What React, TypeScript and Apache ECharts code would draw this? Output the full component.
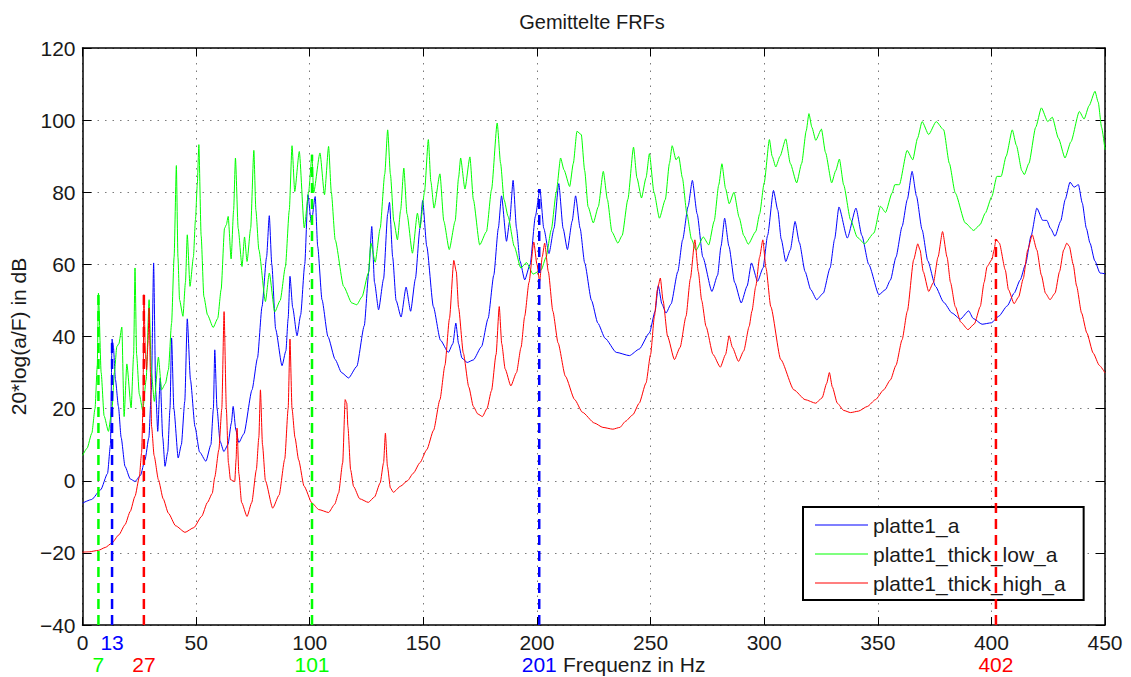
import React, { useEffect, useRef } from "react";
import * as echarts from "echarts";

const FONT = "'Liberation Sans', Arial, Helvetica, sans-serif";

// Averaged frequency response functions: [frequency in Hz, level in dB]
const platte1A: [number, number][] = [
  [0, -6.2], [4, -5.2], [8, -2.5], [11, 2], [12.3, 10], [13, 39.3], [13.6, 37], [14.5, 28], [15.8, 20.6], [17, 12],
  [18.7, 4], [21, 0.5], [23.1, -0.2], [25.5, 1.5], [27.5, 5.8], [29.2, 12], [30.3, 25], [31.3, 60.4], [32.2, 25],
  [33.1, 13.7], [34.2, 28.5], [35.3, 12], [36.3, 4], [37.5, 8], [38.5, 20], [39.2, 39.6], [40.2, 20], [42.1, 6.3],
  [43.5, 10], [45, 22], [46.1, 44.9], [47.5, 28], [49.5, 15], [51.5, 8], [54.3, 5.4], [56.5, 10], [57.6, 20],
  [58.2, 36.3], [59.2, 20], [60.5, 11], [62.2, 8.1], [64, 10], [65.5, 16], [66.3, 20.6], [67.5, 14], [68.8, 10.6],
  [71, 13], [74.6, 25.2], [77, 34], [79, 48.3], [81, 62], [82.2, 73.5], [83.3, 60], [85, 42], [87.8, 31.9], [89.5, 36],
  [90.5, 45], [91.3, 56.7], [92.5, 48], [94.4, 40.2], [96, 46], [97.8, 60], [99.2, 79.3], [100.7, 71.5], [102.4, 78.8],
  [103.5, 65], [105.4, 50.2], [108, 40], [111.2, 33.6], [114, 30], [117.1, 28.5], [120.7, 31.7], [124, 43], [126, 58],
  [127.3, 70.5], [128.5, 55], [130.3, 47.4], [132.5, 56], [134.3, 74], [135.1, 77.2], [136.5, 62], [138, 50],
  [140.2, 45.4], [142.4, 53.7], [144.4, 47], [146.5, 56], [148.5, 70], [149.7, 77.7], [151.5, 65], [154.4, 48.3],
  [157.5, 39], [161, 35.6], [163, 38], [164.3, 43.7], [165.5, 38], [167, 34], [169.3, 32.8], [172, 33.5], [175.6, 37.2],
  [178.5, 45], [181, 57], [183, 70], [184.4, 79], [186.6, 66.4], [188, 72], [189.5, 83.3], [191, 70], [192.5, 61],
  [194.6, 55.7], [197, 60], [199.3, 73.3], [201.3, 80.9], [203, 70], [205.3, 63], [207.5, 70], [209.6, 82.4],
  [211.5, 70], [213.4, 64.1], [215.5, 72], [217, 79], [219, 70], [221, 60.4], [224, 50], [226.8, 43.7], [230, 39.5],
  [234.9, 35.6], [240.7, 34.7], [245, 36.5], [249.5, 41], [252, 47], [253.4, 54.1], [255, 49], [256.8, 46.5], [259, 49],
  [262, 58], [264.1, 66.8], [266.5, 76], [268.4, 83.3], [270.5, 74], [273, 62], [277, 52.5], [279.5, 57], [281, 65],
  [282.6, 72.8], [284.5, 65], [287, 55], [289.9, 49.3], [292.5, 54], [294.4, 60.4], [297.1, 55.3], [299.5, 59],
  [301.5, 68], [304.1, 80.5], [306, 75], [307.5, 67], [309.5, 60.8], [311.5, 64], [313.6, 71.9], [315.5, 66], [318, 58],
  [320.5, 53], [323.1, 50.2], [326, 52], [329, 59], [331, 67], [332.9, 75.9], [336.6, 67.3], [340.4, 75.6], [343, 68],
  [346, 60], [350.5, 51.6], [353.4, 53], [355.6, 55.7], [358, 62], [360.7, 70.5], [363, 78], [365.1, 85.8], [367, 79],
  [369.5, 69.6], [372, 61], [375.4, 53.9], [379, 49.5], [382.7, 46.5], [386.3, 44.8], [390, 47.1], [392, 45],
  [395.9, 43.4], [400, 43.8], [403.2, 45.6], [407, 48.5], [410, 52], [412.7, 55.7], [415, 60], [417.5, 68], [420, 75.6],
  [422.6, 72.2], [424.4, 72.2], [426, 70], [428, 67.8], [430.5, 72], [432.5, 78], [434.6, 82.8], [436.4, 81.4],
  [438.3, 82.1], [440, 77], [441.8, 70], [443.4, 65.9], [445.5, 61], [447.8, 57.6], [450, 57.4],
];

const platte1ThickLowA: [number, number][] = [
  [0, 7], [2, 9], [4.1, 13.2], [5.5, 20], [6.5, 32], [7, 52], [8.2, 30], [9.5, 18], [11.4, 13.7], [13, 20], [14, 30],
  [15.1, 37.2], [16, 38], [17.3, 42.6], [18.3, 17.8], [19.5, 32.4], [21.4, 20.2], [22.5, 35], [23.1, 59], [23.8, 35],
  [25, 24], [26.5, 19.5], [28, 28], [29.3, 50.2], [30.3, 30], [31.6, 22], [33.4, 34.3], [34.8, 25.2], [36.5, 27],
  [37.8, 30.8], [39.2, 43.7], [40.3, 62], [41.3, 87.4], [42, 62], [42.7, 50.2], [44.2, 45.6], [45.3, 55], [46.1, 68.2],
  [47.3, 53.9], [48.8, 62], [49.7, 72.4], [50.5, 82], [51.2, 93.2], [52.2, 68], [53.4, 51.1], [55, 46], [57.5, 42.5],
  [59.5, 45], [61, 53], [62.5, 70], [63.3, 71], [64.1, 73.3], [65.4, 61.5], [66.5, 75], [67.3, 89.5], [68.5, 70],
  [70.2, 59.4], [71.3, 67.6], [72.4, 60.8], [74, 70], [75.4, 91.6], [76.3, 75], [77.6, 64.1], [80.5, 49.7], [82.2, 57.6],
  [84.6, 46.8], [87, 50], [89.3, 59.4], [91, 75], [92.2, 92.9], [93.4, 80.2], [95.4, 91.3], [97.6, 70.1], [99.5, 80],
  [101, 90.4], [101.7, 79.8], [104.5, 90.9], [106.5, 79.3], [108.3, 92.7], [109.5, 80], [111.2, 66.8], [114.9, 53.9],
  [118.5, 49.3], [120.7, 48.8], [123, 51], [125.8, 57.6], [126.9, 65.9], [128.8, 60.6], [131, 70], [133, 85],
  [134.3, 97.3], [135.5, 85], [137, 72], [138.6, 66.8], [140, 75], [141.4, 86.7], [142.8, 74], [145.2, 63.1],
  [147.4, 74.2], [148.5, 70.1], [150.5, 80], [152.2, 94.6], [153.3, 83], [154.7, 75.6], [157.3, 85.1], [159, 72],
  [161.4, 64.1], [164, 72], [165.5, 84], [166.4, 89.5], [168.3, 80.9], [170.5, 89.8], [172, 78], [174.8, 65.4],
  [177.8, 69.1], [180, 80.7], [182.5, 99.2], [184, 88], [185.5, 78], [187.3, 73.3], [190, 65], [192.9, 59], [195.4, 60.5],
  [198.3, 57.3], [201.9, 58.5], [204, 62], [206.3, 69.6], [208.5, 80], [210.4, 89.5], [211.9, 86.2], [214.4, 81.6],
  [216, 88], [217.6, 96.9], [219.5, 96], [221, 86], [222.5, 76], [224.8, 71.5], [227, 76], [229.2, 85.8], [231, 78],
  [233, 69], [235.6, 65.9], [237.5, 68], [240, 78], [242.5, 92.5], [244, 84], [246, 78.4], [248, 84], [249.5, 90.7],
  [251.5, 80], [253.9, 72.8], [256.5, 78], [258.3, 88], [259.5, 92.9], [261.2, 89], [262.4, 89.9], [264, 84], [266, 74],
  [268, 67], [270, 63.9], [273.2, 67.6], [275.6, 65.4], [278, 72], [280, 82], [281.4, 87.9], [283, 81], [284.6, 76.8],
  [286.7, 80], [289, 73], [291, 68], [293, 65.6], [296.3, 69.1], [298, 74], [300, 82.6], [302.3, 94.6], [303.5, 90],
  [305.1, 87], [307, 90], [309.5, 94.8], [311.5, 88], [314.3, 82.6], [316.5, 88], [318.5, 97], [319.7, 101.8], [321, 98],
  [322.7, 94.4], [325.2, 97.5], [327, 91], [329.7, 82.6], [331.5, 86], [333.1, 89.2], [335, 82], [338, 72.4], [341, 67.5],
  [344.2, 65.7], [348.3, 68.7], [351.2, 76.1], [353.4, 74.4], [356.3, 79.8], [357.5, 82.1], [359.5, 82.1], [362.9, 91.6],
  [365.4, 89], [367.5, 95], [369.5, 99.6], [372.4, 96], [375.7, 99.6], [379, 97.3], [381.5, 88], [384.1, 79.8],
  [388.5, 71.5], [392.2, 69.4], [395, 71], [397.3, 74.2], [400.2, 78.8], [402.4, 84.4], [404.3, 84.4], [406.5, 90],
  [409.2, 97.3], [411, 93], [413.4, 86], [414.5, 84.9], [416.5, 88], [419.5, 98], [422, 103.4], [424.8, 99.6],
  [426.8, 100.8], [429.5, 95], [432.4, 89.5], [435, 94], [438.7, 102.4], [440.8, 100.3], [443, 104], [445.6, 108],
  [447, 105], [448.5, 98], [450, 91.8],
];

const platte1ThickHighA: [number, number][] = [
  [0, -19.8], [3, -19.7], [7, -19.3], [10, -18.5], [12.9, -17.3], [16, -15], [18.7, -12.2], [21, -8.5], [23.1, -4.3],
  [25, 1], [26, 7.7], [26.6, 20], [27, 51.6], [27.7, 35], [28.2, 30.8], [28.8, 38], [29.3, 47.9], [29.9, 30], [30.4, 15],
  [31.5, 7], [33.4, 0.3], [35.5, -5], [37.8, -9], [41, -12.5], [45.1, -14.3], [49, -13], [52.4, -9.9], [55, -6],
  [57.1, -3.5], [58.2, 1], [60, 8.6], [61.3, 20], [62.3, 46.9], [63.3, 20], [64.2, 5], [65.1, 0.3], [67, -0.2], [67.6, 6],
  [68, 14.6], [68.8, 2], [70, -6], [72.4, -9.9], [74.5, -6], [76.5, 3], [77.6, 12], [78.3, 25.2], [79.2, 10], [80.5, 0],
  [83.7, -7.6], [86.5, -4], [89, 6], [90.5, 20], [91.3, 39.3], [92.2, 20], [93.5, 12], [95.1, 5.8], [97.5, -1.5],
  [101, -6.2], [104, -8], [108.3, -8.8], [111, -6.5], [112.7, -3.4], [114.5, 5], [115.6, 22.5], [116.3, 21.5],
  [116.8, 15], [118, 3], [119.3, -1.6], [122, -5], [125.8, -6], [128.5, -4.5], [131, -0.6], [132.5, 5], [133.3, 13.2],
  [134.2, 4], [135.5, -2], [136.8, -3.2], [140, -1.5], [143, 0], [145.6, 2.1], [148.5, 5], [151.5, 8.6], [154.5, 14],
  [157.3, 22.5], [159.5, 32], [161.5, 45], [163.4, 61.1], [164.5, 58], [165.5, 48], [167.6, 35.4], [170, 26],
  [172, 20.6], [174, 18.5], [176, 17.8], [178, 20], [180, 25], [182, 35], [183.4, 48.3], [184.5, 38], [186, 31],
  [188.5, 26.3], [191, 30], [193, 37], [194.6, 45.6], [196.5, 55], [198.6, 66.2], [200, 60], [201.2, 55.3], [202.3, 62],
  [203.4, 65.9], [205, 58], [207, 47], [209.3, 38.2], [212.5, 29], [216.6, 22.5], [220, 19], [225.3, 16], [229, 14.8],
  [233.4, 14.3], [236.5, 14.8], [239, 16.5], [242.2, 18.3], [245, 21.5], [248, 27.1], [250, 35], [251.7, 45.6],
  [253, 53], [254.3, 56.2], [255.5, 50], [257.5, 40], [260.5, 33.6], [263, 37], [265.6, 45.6], [267.5, 56],
  [269.5, 66.8], [271, 58], [272.5, 50], [274.4, 42.8], [277.5, 35], [280.7, 31.5], [283, 35], [284.6, 40.2], [286, 37],
  [288.7, 33.1], [291, 36], [293.4, 42.8], [294.6, 47], [296.3, 53.9], [298, 62], [299.4, 66.8], [300.8, 59],
  [302.9, 48.3], [307.3, 33.6], [313.1, 25.2], [318, 22.5], [322.7, 21.5], [325.5, 23], [327.5, 27], [328.7, 30],
  [330, 26], [332.2, 21.5], [335, 19.5], [338, 18.9], [341.5, 19.3], [345.4, 20.6], [349, 22.5], [352.6, 25.2],
  [355.6, 28], [358, 32], [360.7, 39.1], [363, 47], [365.8, 61.3], [367.6, 65.7], [368.6, 64], [370, 58], [372.4, 52.5],
  [374.5, 55], [376.5, 62], [378.5, 69.1], [380.5, 62], [382, 55], [384.1, 48.3], [386.5, 44], [389.7, 41.9],
  [392.5, 43.5], [395.1, 48.3], [396.8, 55], [398.1, 59.4], [400.2, 61.3], [401.2, 64], [402, 67], [403.5, 65.9],
  [406.1, 58.5], [407.5, 53], [410, 49.1], [412, 51], [414, 56], [416, 64], [418, 68.2], [420, 64], [422, 57],
  [423.8, 52], [425.8, 50.2], [428, 52], [430, 58], [431.8, 64], [433.2, 65.9], [434.3, 65], [436, 60], [437.5, 54],
  [439.7, 46.5], [442, 41], [444.8, 35.4], [447.5, 32], [450, 29.9],
];

// Marked resonance frequencies and the level each dashed marker reaches
const markerFreqs = [7, 13, 27, 101, 201, 402];
const markerLevels = [52, 39.3, 51.6, 90.4, 80.9, 67];
const markerSeries = [1, 0, 2, 1, 0, 2];

const seriesNames = ["platte1_a", "platte1_thick_low_a", "platte1_thick_high_a"];
const seriesColors = ["#0000ff", "#00ff00", "#ff0000"];
const seriesData = [platte1A, platte1ThickLowA, platte1ThickHighA];

const xMin = 0;
const xMax = 450;
const xStep = 50;
const yMin = -40;
const yMax = 120;
const yStep = 20;

const TEXT = "#1a1a1a";

export default function App() {
  const ref = useRef<HTMLDivElement>(null);

  useEffect(() => {
    const chart = echarts.init(ref.current!, null, { renderer: "svg" });

    const gridLine = { show: true, lineStyle: { color: "#7a7a7a", width: 1, type: [1.5, 6] } };
    const frame = { show: true, onZero: false, lineStyle: { color: "#000", width: 1.5 } };
    const tick = (len: number) => ({ show: true, inside: true, length: len, lineStyle: { color: "#000", width: 1 } });

    const curves = seriesData.map((d, i) => ({
      name: seriesNames[i],
      type: "line",
      data: d,
      symbol: "none",
      smooth: 0.2,
      smoothMonotone: "x",
      lineStyle: { color: seriesColors[i], width: 1 },
      itemStyle: { color: seriesColors[i] },
      z: 2 + i,
    }));

    const markers = markerFreqs.map((f, i) => ({
      type: "line",
      data: [[f, yMin], [f, markerLevels[i]]],
      symbol: "none",
      silent: true,
      lineStyle: { color: seriesColors[markerSeries[i]], width: 2.5, type: [10, 6] },
      z: 6,
    }));

    chart.setOption({
      animation: false,
      backgroundColor: "#fff",
      textStyle: { fontFamily: FONT },
      grid: { left: 80, right: 26, top: 48, bottom: 52, containLabel: false },
      legend: {
        data: seriesNames.map((n) => ({ name: n, icon: "rect" })),
        orient: "vertical",
        left: 803,
        top: 507,
        backgroundColor: "#fff",
        borderColor: "#000",
        borderWidth: 2,
        borderRadius: 0,
        padding: [7, 18, 6, 12],
        itemWidth: 53,
        itemHeight: 1.2,
        itemGap: 7,
        selectedMode: false,
        textStyle: { fontSize: 21, color: TEXT, lineHeight: 22, fontFamily: FONT },
      },
      xAxis: [
        {
          type: "value",
          min: xMin,
          max: xMax,
          interval: xStep,
          position: "bottom",
          axisLine: frame,
          axisTick: tick(8),
          splitLine: gridLine,
          axisLabel: { fontSize: 21, lineHeight: 20, color: TEXT, margin: 7, fontFamily: FONT },
        },
        {
          type: "value",
          min: xMin,
          max: xMax,
          interval: xStep,
          position: "top",
          axisLine: frame,
          axisTick: tick(8),
          splitLine: { show: false },
          axisLabel: { show: false },
        },
      ],
      yAxis: [
        {
          type: "value",
          min: yMin,
          max: yMax,
          interval: yStep,
          position: "left",
          axisLine: frame,
          axisTick: tick(9),
          splitLine: gridLine,
          axisLabel: {
            fontSize: 21,
            color: TEXT,
            margin: 7,
            fontFamily: FONT,
            formatter: (v: number) => String(v).replace("-", "\u2212"),
          },
          name: "20*log(a/F) in dB",
          nameLocation: "middle",
          nameGap: 48,
          nameTextStyle: { fontSize: 21, color: TEXT, fontFamily: FONT },
        },
        {
          type: "value",
          min: yMin,
          max: yMax,
          interval: yStep,
          position: "right",
          axisLine: frame,
          axisTick: tick(9),
          splitLine: { show: false },
          axisLabel: { show: false },
        },
      ],
      series: [...curves, ...markers],
    });

    // Frequency labels under each dashed marker, placed through the axis scale
    const markerLabels = markerFreqs.map((f, i) => {
      const [px, py] = chart.convertToPixel({ gridIndex: 0 }, [f, yMin]) as number[];
      const sameRowAsTicks = f === 13;
      return {
        type: "text",
        x: px,
        y: py + (sameRowAsTicks ? 7 : 29),
        silent: true,
        style: {
          text: String(f),
          fill: seriesColors[markerSeries[i]],
          font: `21px ${FONT}`,
          align: "center",
          verticalAlign: "top",
        },
      };
    });

    chart.setOption({
      graphic: [
        {
          type: "text",
          x: 592,
          y: 12,
          silent: true,
          style: { text: "Gemittelte FRFs", fill: TEXT, font: `20px ${FONT}`, align: "center", verticalAlign: "top" },
        },
        {
          type: "text",
          x: 563,
          y: 654,
          silent: true,
          style: { text: "Frequenz in Hz", fill: TEXT, font: `21px ${FONT}`, align: "left", verticalAlign: "top" },
        },
        ...markerLabels,
      ],
    });

    return () => chart.dispose();
  }, []);

  return (
    <div
      ref={ref}
      style={{ position: "absolute", left: 0, top: 0, width: 1131, height: 677 }}
    />
  );
}
